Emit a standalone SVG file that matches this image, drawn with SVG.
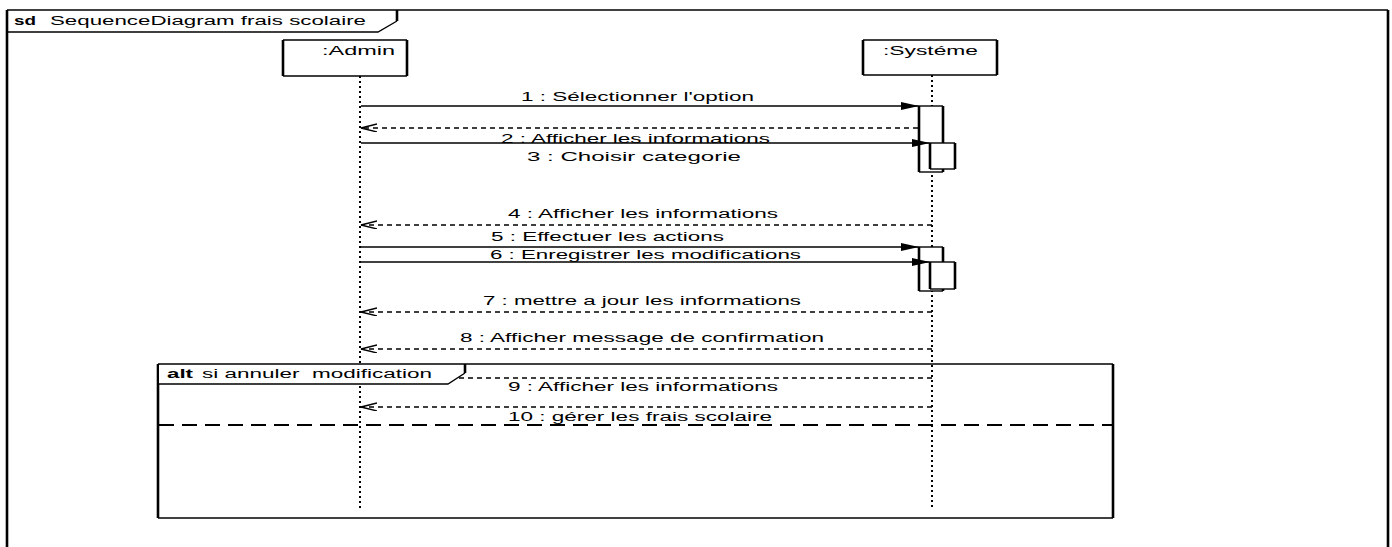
<svg xmlns="http://www.w3.org/2000/svg" width="1392" height="547" viewBox="0 0 1392 547">
  <style>
    text { font-family: "Liberation Sans", Arial, sans-serif; font-size: 12.5px; fill: #000; white-space: pre; }
    .b { font-weight: bold; }
    .hl { stroke: #000; stroke-width: 1.4; fill: none; }
    .vl { stroke: #000; stroke-width: 2.6; fill: none; }
    .life { stroke: #000; stroke-width: 2; stroke-dasharray: 2 3; fill: none; }
    .call { stroke: #000; stroke-width: 1.5; fill: none; marker-end: url(#solidHead); }
    .reply { stroke: #000; stroke-width: 1.5; stroke-dasharray: 5 4; fill: none; marker-end: url(#openHead); }
    .sep { stroke: #000; stroke-width: 2; stroke-dasharray: 15 8; fill: none; }
    .box { fill: #fff; stroke: none; }
  </style>
  <defs>
    <marker id="solidHead" markerUnits="userSpaceOnUse" markerWidth="20" markerHeight="10" refX="18" refY="4" orient="auto">
      <path d="M0,0 L18,4 L0,8 z" fill="#000" stroke="none"/>
    </marker>
    <marker id="openHead" markerUnits="userSpaceOnUse" markerWidth="18" markerHeight="10" refX="16" refY="4" orient="auto">
      <path d="M0,0 L16,4 L0,8" fill="none" stroke="#000" stroke-width="1.3"/>
    </marker>
  </defs>

  <rect x="0" y="0" width="1392" height="547" fill="#fff"/>

  <!-- outer sd frame -->
  <g id="frame-sd">
    <line class="hl" x1="7" y1="10" x2="1388" y2="10"/>
    <line class="vl" x1="7" y1="10" x2="7" y2="547"/>
    <line class="vl" x1="1388" y1="10" x2="1388" y2="547"/>
    <path class="hl" d="M7,32 L378,32 L397,21"/>
    <line class="vl" x1="397" y1="10" x2="397" y2="21"/>
    <text class="b" x="14" y="25" textLength="22" lengthAdjust="spacingAndGlyphs">sd</text>
    <text x="50" y="25" textLength="316" lengthAdjust="spacingAndGlyphs">SequenceDiagram frais scolaire</text>
  </g>

  <!-- lifelines -->
  <g id="admin">
    <line class="life" x1="360" y1="76" x2="360" y2="510"/>
    <rect class="box" x="283" y="40" width="124" height="36"/>
    <line class="hl" x1="283" y1="40" x2="407" y2="40"/>
    <line class="hl" x1="283" y1="76" x2="407" y2="76"/>
    <line class="vl" x1="283" y1="40" x2="283" y2="76"/>
    <line class="vl" x1="407" y1="40" x2="407" y2="76"/>
    <text x="322" y="55" textLength="73" lengthAdjust="spacingAndGlyphs">:Admin</text>
  </g>

  <g id="systeme">
    <line class="life" x1="932" y1="75" x2="932" y2="510"/>
    <rect class="box" x="863" y="40" width="134" height="35"/>
    <line class="hl" x1="863" y1="40" x2="997" y2="40"/>
    <line class="hl" x1="863" y1="75" x2="997" y2="75"/>
    <line class="vl" x1="863" y1="40" x2="863" y2="75"/>
    <line class="vl" x1="997" y1="40" x2="997" y2="75"/>
    <text x="883" y="55" textLength="95" lengthAdjust="spacingAndGlyphs">:Systéme</text>
  </g>

  <!-- activation bars on Système -->
  <g id="activation-1">
    <rect class="box" x="919" y="106" width="24" height="66"/>
    <line class="hl" x1="919" y1="106" x2="943" y2="106"/>
    <line class="hl" x1="919" y1="172" x2="943" y2="172"/>
    <line class="vl" x1="919" y1="106" x2="919" y2="172"/>
    <line class="vl" x1="943" y1="106" x2="943" y2="172"/>
  </g>
  <g id="activation-1b">
    <rect class="box" x="930" y="143" width="25" height="26"/>
    <line class="hl" x1="930" y1="143" x2="955" y2="143"/>
    <line class="hl" x1="930" y1="169" x2="955" y2="169"/>
    <line class="vl" x1="930" y1="143" x2="930" y2="169"/>
    <line class="vl" x1="955" y1="143" x2="955" y2="169"/>
  </g>
  <g id="activation-2">
    <rect class="box" x="919" y="247" width="24" height="44"/>
    <line class="hl" x1="919" y1="247" x2="943" y2="247"/>
    <line class="hl" x1="919" y1="291" x2="943" y2="291"/>
    <line class="vl" x1="919" y1="247" x2="919" y2="291"/>
    <line class="vl" x1="943" y1="247" x2="943" y2="291"/>
  </g>
  <g id="activation-2b">
    <rect class="box" x="930" y="262" width="25" height="27"/>
    <line class="hl" x1="930" y1="262" x2="955" y2="262"/>
    <line class="hl" x1="930" y1="289" x2="955" y2="289"/>
    <line class="vl" x1="930" y1="262" x2="930" y2="289"/>
    <line class="vl" x1="955" y1="262" x2="955" y2="289"/>
  </g>

  <!-- messages -->
  <g id="messages">
    <line class="call" x1="361" y1="106" x2="919" y2="106"/>
    <text x="521" y="101" textLength="233" lengthAdjust="spacingAndGlyphs">1 : Sélectionner l'option</text>

    <line class="reply" x1="918" y1="128" x2="361" y2="128"/>
    <text x="501" y="143" textLength="269" lengthAdjust="spacingAndGlyphs">2 : Afficher les informations</text>

    <line class="call" x1="361" y1="143" x2="930" y2="143"/>
    <text x="527" y="161" textLength="214" lengthAdjust="spacingAndGlyphs">3 : Choisir categorie</text>

    <line class="reply" x1="932" y1="225" x2="361" y2="225"/>
    <text x="508" y="218" textLength="270" lengthAdjust="spacingAndGlyphs">4 : Afficher les informations</text>

    <line class="call" x1="361" y1="247" x2="919" y2="247"/>
    <text x="491" y="241" textLength="233" lengthAdjust="spacingAndGlyphs">5 : Effectuer les actions</text>

    <line class="call" x1="361" y1="262" x2="930" y2="262"/>
    <text x="490" y="259" textLength="311" lengthAdjust="spacingAndGlyphs">6 : Enregistrer les modifications</text>

    <line class="reply" x1="932" y1="312" x2="361" y2="312"/>
    <text x="483" y="305" textLength="318" lengthAdjust="spacingAndGlyphs">7 : mettre a jour les informations</text>

    <line class="reply" x1="932" y1="349" x2="361" y2="349"/>
    <text x="460" y="342" textLength="364" lengthAdjust="spacingAndGlyphs">8 : Afficher message de confirmation</text>

    <line class="reply" x1="932" y1="378" x2="361" y2="378"/>
    <text x="508" y="391" textLength="270" lengthAdjust="spacingAndGlyphs">9 : Afficher les informations</text>

    <line class="reply" x1="932" y1="407" x2="361" y2="407"/>
    <text x="508" y="421" textLength="264" lengthAdjust="spacingAndGlyphs">10 : gérer les frais scolaire</text>
  </g>

  <!-- alt combined fragment -->
  <g id="alt-fragment">
    <line class="hl" x1="158" y1="364" x2="1113" y2="364"/>
    <line class="hl" x1="158" y1="518" x2="1113" y2="518"/>
    <line class="vl" x1="158" y1="364" x2="158" y2="518"/>
    <line class="vl" x1="1113" y1="364" x2="1113" y2="518"/>
    <line class="sep" x1="159" y1="425" x2="1113" y2="425"/>
    <path d="M159,365 L465,365 L465,373 L448,384 L159,384 z" fill="#fff" stroke="none"/>
    <path class="hl" d="M158,384 L448,384 L465,373"/>
    <line class="vl" x1="465" y1="364" x2="465" y2="373"/>
    <text class="b" x="167" y="378" textLength="26" lengthAdjust="spacingAndGlyphs">alt</text>
    <text x="202" y="378" textLength="230" lengthAdjust="spacingAndGlyphs">si annuler  modification</text>
  </g>
</svg>
